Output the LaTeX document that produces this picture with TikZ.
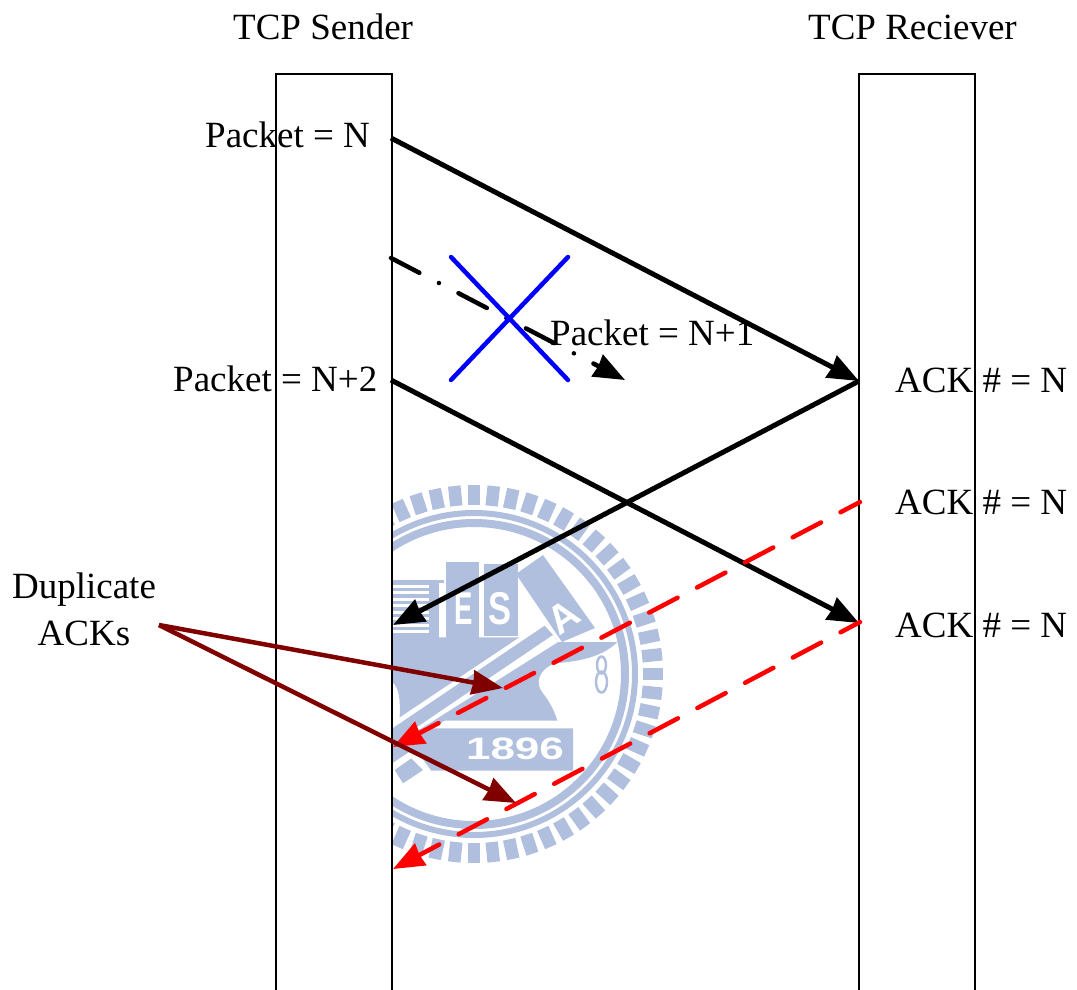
\documentclass[tikz,border=0pt]{standalone}
\usepackage{fontspec}
\setmainfont{Liberation Serif}
\newfontfamily\logofont{Liberation Sans}
\usetikzlibrary{arrows.meta,calc}
\definecolor{logoblue}{HTML}{AFBFDD}
\definecolor{dupred}{HTML}{800000}
\tikzset{
  x=1pt,y=-1pt,
  lifeline/.style={draw=black,line width=1.4pt},
  lbl/.style={anchor=base west,inner sep=0pt,font=\fontsize{37}{40}\selectfont},
  lblc/.style={anchor=base,inner sep=0pt,font=\fontsize{37}{40}\selectfont},
  tip/.style={-{Stealth[length=31pt,width=24pt,inset=1pt]}},
  msg/.style={tip,line width=5pt,black},
  lost/.style={tip,line width=4.5pt,black,line cap=round,dash pattern=on 32pt off 22pt on 0.1pt off 22pt},
  ack/.style={tip,line width=4.5pt,red,line cap=round,dash pattern=on 32pt off 22pt,dash phase=10pt},
  dup/.style={tip,line width=4.5pt,dupred},
  cross/.style={line width=4.5pt,blue,line cap=round},
  logoletter/.style={text=white,inner sep=0pt},
}
\begin{document}
\begin{tikzpicture}
\useasboundingbox (0,0) rectangle (1077,989);
% watermark
\begin{scope}
  \clip (392,470) rectangle (680,880);
  \foreach \a in {0,6,...,354}{
    \draw[logoblue,line width=12.5pt] ($(474,674)+(\a:169)$) -- ($(474,674)+(\a:189)$);
  }
  \draw[logoblue,line width=6pt] (474,674) circle[radius=161];
  \draw[logoblue,line width=8pt] (474,674) circle[radius=151];
  % striped block and T
  \fill[logoblue] (392,580) rectangle (444,583);
  \fill[logoblue] (392,583) rectangle (439,638);
  \foreach \yy in {586,592.5,599,605.5,612,618.5,625,631.5}{
    \fill[white] (392,\yy-1.5) rectangle (429,\yy+1.5);
  }
  % E and S blocks
  \fill[logoblue] (446,562) rectangle (479,638);
  \fill[logoblue] (484,564) rectangle (518,636);
  % rotated A block
  \fill[logoblue] (543,555) -- (595,628) -- (562,642) -- (516,574) -- cycle;
  \begin{scope}[shift={(388,620)},scale=1/3]
    % upper body
    \fill[logoblue] (12,52) -- (394,52) -- (35,292) .. controls (37,240) and (35,205) .. (12,185) -- cycle;
    % hammer handle and anvil
    \fill[logoblue] (470,17) -- (495,45) -- (510,66) -- (688,66) .. controls (640,115) and (560,125) .. (500,130)
       .. controls (450,150) and (440,190) .. (465,220) .. controls (485,245) and (500,275) .. (508,302)
       -- (170,302) -- (125,330) -- (100,410) -- (65,395) -- (12,430) -- (12,326) -- cycle;
    % stripe between handle and anvil
    \fill[white] (495,45) -- (510,66) -- (100,325) -- (60,340) -- cycle;
    % year plate
    \fill[logoblue] (125,325) -- (555,325) -- (555,452) -- (130,452) -- (95,405) -- cycle;
    % tooth
    \fill[logoblue] (20,450) -- (70,415) -- (105,450) -- (45,490) -- cycle;
  \end{scope}
  \draw[logoblue,line width=2.5pt] (601.5,665) ellipse[x radius=4.5,y radius=8.5];
  \draw[logoblue,line width=2.5pt] (601.5,682) ellipse[x radius=5.5,y radius=10.5];
  \node[logoletter,font=\logofont\bfseries\fontsize{46}{46}\selectfont,xscale=.6] (logoE) at (464,608.5) {E};
  \node[logoletter,font=\logofont\bfseries\fontsize{46}{46}\selectfont,xscale=.75] (logoS) at (500.5,608.5) {S};
  \node[logoletter,font=\logofont\bfseries\fontsize{40}{40}\selectfont,rotate=35] (logoA) at (563,617) {A};
  \node[logoletter,font=\logofont\bfseries\fontsize{31}{31}\selectfont,xscale=1.42] (logoY) at (515,749) {1896};
\end{scope}
% lifelines
\draw[lifeline] (276,990) -- (276,74) -- (392,74) -- (392,990);
\draw[lifeline] (859,990) -- (859,74) -- (975,74) -- (975,990);
% labels
\node[lbl] (tsend) at (233,39) {TCP Sender};
\node[lbl] (trecv) at (808,39) {TCP Reciever};
\node[lbl] (pn) at (205,147) {Packet = N};
\node[lbl] (pn1) at (550,345) {Packet = N+1};
\node[lbl] (pn2) at (173,391) {Packet = N+2};
\node[lbl] (a1) at (895,392) {ACK \# = N};
\node[lbl] (a2) at (895,514) {ACK \# = N};
\node[lbl] (a3) at (895,637) {ACK \# = N};
\node[lblc] (d1) at (84,598) {Duplicate};
\node[lblc] (d2) at (84,645) {ACKs};
% endpoints
\coordinate (s1) at (391,138);
\coordinate (r1) at (859,381);
\coordinate (s2) at (391,258);
\coordinate (lostend) at (625,380);
\coordinate (s3) at (391,380);
\coordinate (r3) at (859,623);
\coordinate (s4) at (393,625);
\coordinate (r2) at (860,502);
\coordinate (s5) at (393,747);
\coordinate (r4) at (860,622);
\coordinate (s6) at (393,869);
\coordinate (dup) at (159,625);
\coordinate (dt1) at (503,688);
\coordinate (dt2) at (516,803);
\coordinate (xa) at (451,257);
\coordinate (xb) at (568,380);
\coordinate (xc) at (568,257);
\coordinate (xd) at (451,380);
% connectors
\draw[lost] (s2) -- (lostend);
\draw[cross] (xa) -- (xb);
\draw[cross] (xc) -- (xd);
\draw[msg] (s1) -- (r1);
\draw[msg] (s3) -- (r3);
\draw[msg] (r1) -- (s4);
\draw[ack] (r2) -- (s5);
\draw[ack] (r4) -- (s6);
\draw[dup] (dup) -- (dt1);
\draw[dup] (dup) -- (dt2);
\end{tikzpicture}
\end{document}
